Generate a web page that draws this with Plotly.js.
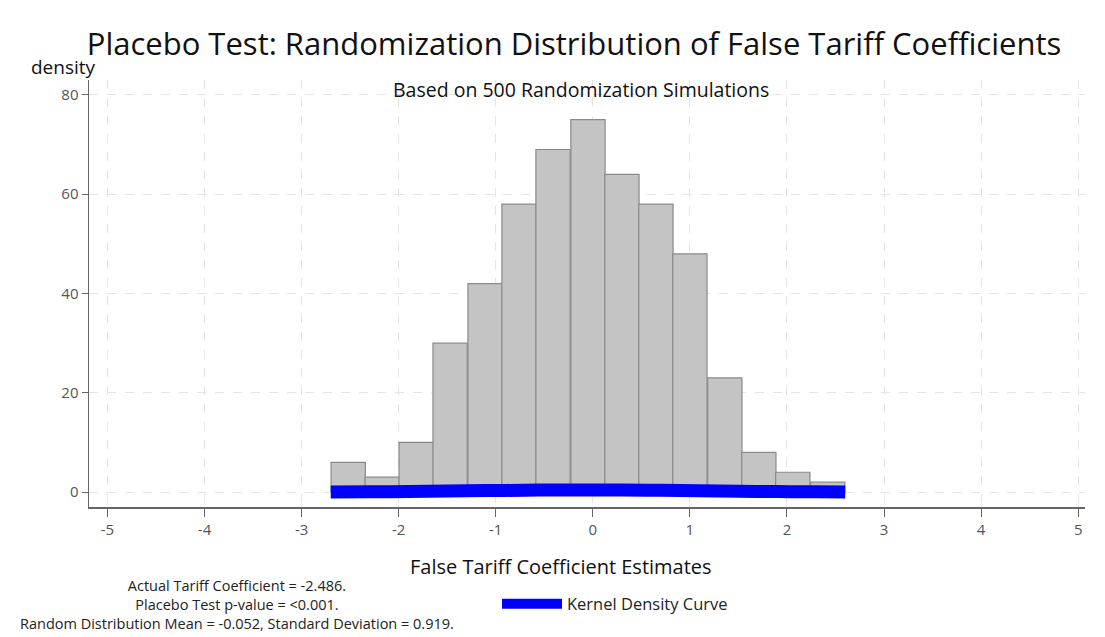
<!DOCTYPE html>
<html><head><meta charset="utf-8">
<script src="https://cdn.plot.ly/plotly-3.0.1.min.js"></script>
<style>body{margin:0;background:#fff}#chart{width:1105px;height:637px}</style>
</head><body><div id="chart"></div>
<script>
// Histogram bins (bin centers) and densities
const binCenters = [-2.52, -2.17, -1.82, -1.47, -1.11, -0.76, -0.41, -0.05, 0.30, 0.65, 1.00, 1.36, 1.71, 2.06, 2.42];
const binWidth = 0.353;
const binHeights = [6, 3, 10, 30, 42, 58, 69, 75, 64, 58, 48, 23, 8, 4, 2];
// Kernel density curve
const kdeX = [-2.70, -2.30, -1.90, -1.50, -1.10, -0.70, -0.30, 0.00, 0.30, 0.70, 1.10, 1.50, 1.90, 2.30, 2.60];
const kdeY = [0.02, 0.05, 0.10, 0.20, 0.30, 0.38, 0.43, 0.43, 0.42, 0.36, 0.28, 0.18, 0.10, 0.05, 0.02];
const xTicks = [-5, -4, -3, -2, -1, 0, 1, 2, 3, 4, 5];
const yTicks = [0, 20, 40, 60, 80];
const noteLines = ["Actual Tariff Coefficient = -2.486.", "Placebo Test p-value = <0.001.", "Random Distribution Mean = -0.052, Standard Deviation = 0.919."];

const font = "Open Sans, Noto Sans, sans-serif";
const traces = [
  {type: 'bar', x: binCenters, y: binHeights, width: binWidth, showlegend: false,
   marker: {color: '#c4c4c4', line: {color: '#8a8a8a', width: 1.2}}, hoverinfo: 'skip'},
  {type: 'scatter', mode: 'lines', x: kdeX, y: kdeY, name: 'Kernel Density Curve',
   line: {color: '#0000ff', width: 13, shape: 'spline'}}
];
const W = 996, H = 427, L = 89, T = 80;
const px = v => (v - L) / W, py = v => (T + H - v) / H;
const annotations = [
  {text: 'density', xref: 'paper', yref: 'paper', x: px(29), y: py(67), xanchor: 'left', yanchor: 'middle', showarrow: false, font: {family: font, size: 19, color: '#111'}},
  {text: 'Based on 500 Randomization Simulations', xref: 'paper', yref: 'paper', x: px(581), y: py(89), xanchor: 'center', yanchor: 'middle', showarrow: false, font: {family: font, size: 19.5, color: '#111'}},
  {text: 'False Tariff Coefficient Estimates', xref: 'paper', yref: 'paper', x: px(561), y: py(566), xanchor: 'center', yanchor: 'middle', showarrow: false, font: {family: font, size: 20, color: '#111'}},
  {text: noteLines.join('<br>'), align: 'center', xref: 'paper', yref: 'paper', x: px(237), y: py(604), xanchor: 'center', yanchor: 'middle', showarrow: false, font: {family: font, size: 14.5, color: '#222'}}
];

const layout = {
  width: 1105, height: 637, paper_bgcolor: '#fff', plot_bgcolor: '#fff',
  margin: {l: L, r: 1105 - L - W, t: T, b: 637 - T - H},
  title: {text: 'Placebo Test: Randomization Distribution of False Tariff Coefficients', x: 574 / 1105, xanchor: 'center', y: 1 - 44 / 637, yanchor: 'middle', font: {family: font, size: 31, color: '#111'}},
  bargap: 0,
  xaxis: {range: [-5.19, 5.07], tickvals: xTicks, ticktext: xTicks.map(String), showline: true, linecolor: '#666', linewidth: 1.5,
    ticks: 'outside', ticklen: 8, tickcolor: '#666', tickfont: {family: font, size: 15, color: '#555'},
    showgrid: true, gridcolor: '#e4e4e4', griddash: 'dash', zeroline: false},
  yaxis: {range: [-3, 83], tickvals: yTicks, showline: true, linecolor: '#666', linewidth: 1.5,
    ticks: 'outside', ticklen: 6, tickcolor: '#666', tickfont: {family: font, size: 15, color: '#555'},
    showgrid: true, gridcolor: '#e4e4e4', griddash: 'dash', zeroline: false},
  legend: {x: px(497), y: py(604), xanchor: 'left', yanchor: 'middle', orientation: 'h', itemwidth: 60, font: {family: font, size: 16.5, color: '#222'}, bgcolor: 'rgba(0,0,0,0)'},
  annotations: annotations
};
Plotly.newPlot('chart', traces, layout, {displayModeBar: false, staticPlot: true});
</script></body></html>
